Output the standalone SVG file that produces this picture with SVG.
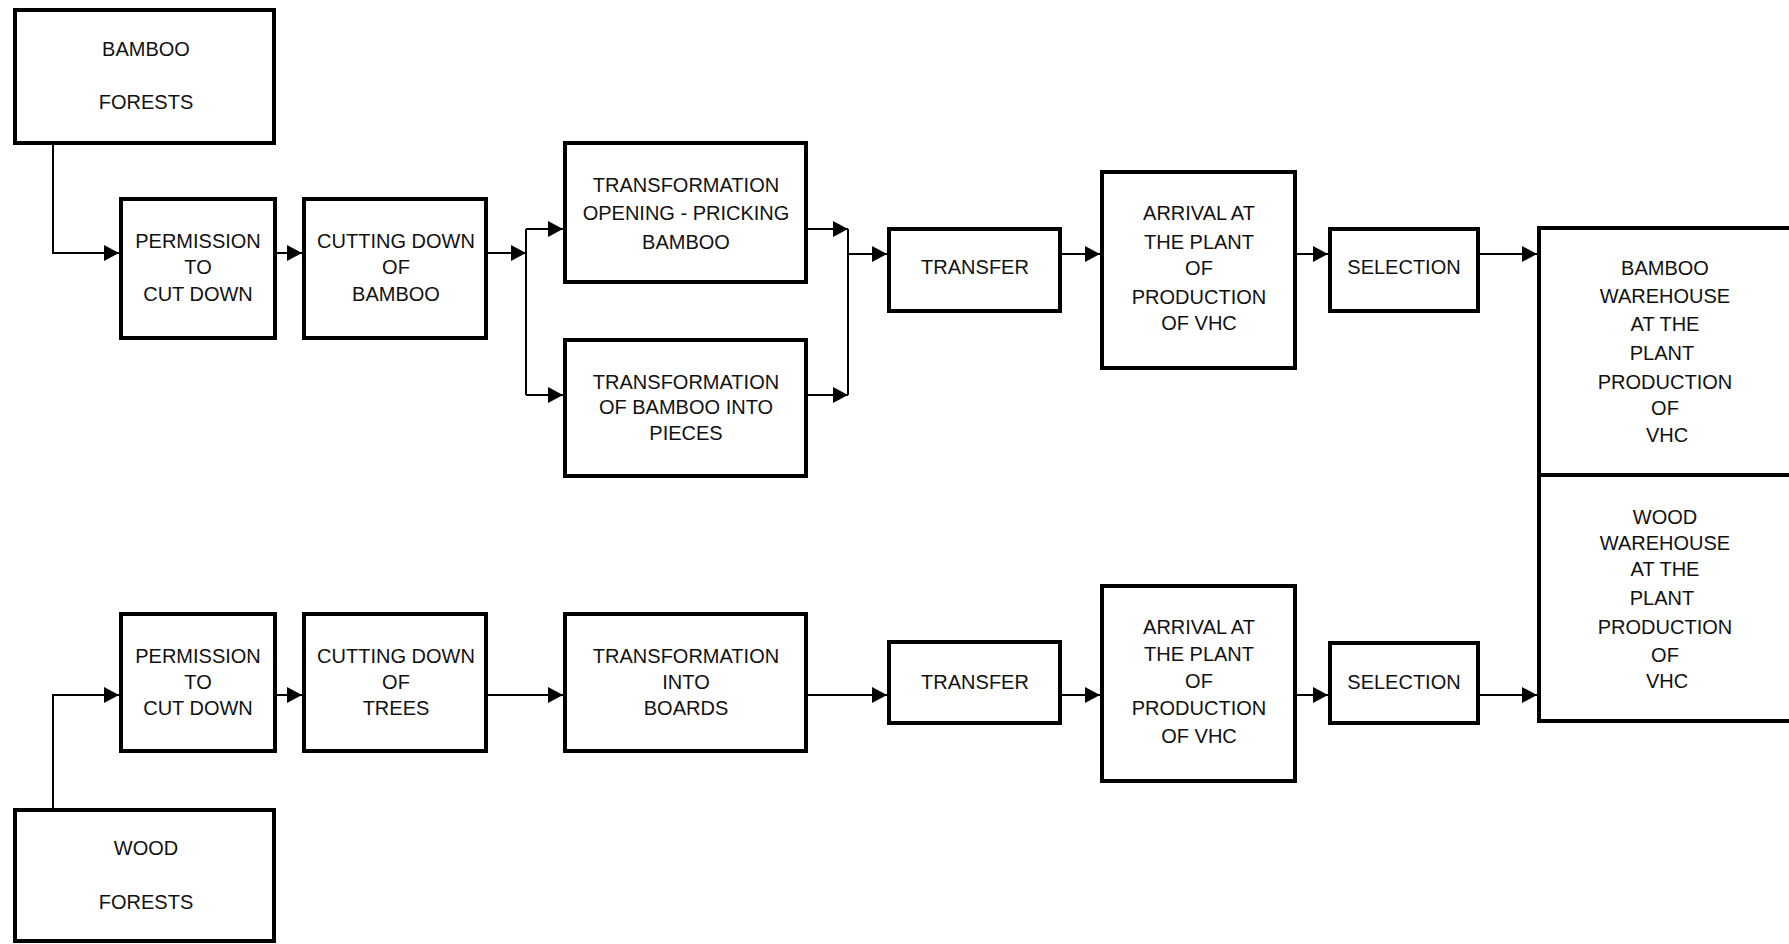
<svg xmlns="http://www.w3.org/2000/svg" width="1789" height="944" viewBox="0 0 1789 944">
<defs>
<marker id="ah" markerUnits="userSpaceOnUse" markerWidth="15" markerHeight="16" refX="15" refY="8" orient="auto">
<path d="M0,0 L15,8 L0,16 z" fill="#000"/>
</marker>
<style>
.box{fill:#fff;stroke:#000;stroke-width:4}
.t{font-family:"Liberation Sans",Arial,sans-serif;font-size:20px;fill:#111;text-anchor:middle}
.c{fill:none;stroke:#000;stroke-width:2}
.a{marker-end:url(#ah)}
</style>
</defs>
<rect width="1789" height="944" fill="#fff"/>
<g id="connectors">
<path class="c a" d="M53,145 V253 H119"/>
<path class="c a" d="M277,253 H302"/>
<path class="c a" d="M488,253 H526"/>
<path class="c" d="M526,229 V395"/>
<path class="c a" d="M526,229 H563"/>
<path class="c a" d="M526,395 H563"/>
<path class="c a" d="M807,229 H848"/>
<path class="c a" d="M807,395 H848"/>
<path class="c" d="M848,229 V395"/>
<path class="c a" d="M848,254 H887"/>
<path class="c a" d="M1061,254 H1100"/>
<path class="c a" d="M1296,254 H1328"/>
<path class="c a" d="M1479,254 H1537"/>
<path class="c a" d="M53,808 V695 H119"/>
<path class="c a" d="M277,695 H302"/>
<path class="c a" d="M488,695 H563"/>
<path class="c a" d="M807,695 H887"/>
<path class="c a" d="M1061,695 H1100"/>
<path class="c a" d="M1296,695 H1328"/>
<path class="c a" d="M1479,695 H1537"/>
</g>
<g id="bamboo-forests">
<rect class="box" x="15" y="10" width="259" height="133"/>
<text class="t" x="146" y="56">BAMBOO</text>
<text class="t" x="146" y="109">FORESTS</text>
</g>
<g id="permission-top">
<rect class="box" x="121" y="199" width="154" height="139"/>
<text class="t" x="198" y="248">PERMISSION</text>
<text class="t" x="198" y="274">TO</text>
<text class="t" x="198" y="301">CUT DOWN</text>
</g>
<g id="cutting-bamboo">
<rect class="box" x="304" y="199" width="182" height="139"/>
<text class="t" x="396" y="248">CUTTING DOWN</text>
<text class="t" x="396" y="274">OF</text>
<text class="t" x="396" y="301">BAMBOO</text>
</g>
<g id="transformation-opening">
<rect class="box" x="565" y="143" width="241" height="139"/>
<text class="t" x="686" y="192">TRANSFORMATION</text>
<text class="t" x="686" y="220">OPENING - PRICKING</text>
<text class="t" x="686" y="249">BAMBOO</text>
</g>
<g id="transformation-pieces">
<rect class="box" x="565" y="340" width="241" height="136"/>
<text class="t" x="686" y="389">TRANSFORMATION</text>
<text class="t" x="686" y="414">OF BAMBOO INTO</text>
<text class="t" x="686" y="440">PIECES</text>
</g>
<g id="transfer-top">
<rect class="box" x="889" y="229" width="171" height="82"/>
<text class="t" x="975" y="274">TRANSFER</text>
</g>
<g id="arrival-top">
<rect class="box" x="1102" y="172" width="193" height="196"/>
<text class="t" x="1199" y="220">ARRIVAL AT</text>
<text class="t" x="1199" y="249">THE PLANT</text>
<text class="t" x="1199" y="275">OF</text>
<text class="t" x="1199" y="304">PRODUCTION</text>
<text class="t" x="1199" y="330">OF VHC</text>
</g>
<g id="selection-top">
<rect class="box" x="1330" y="229" width="148" height="82"/>
<text class="t" x="1404" y="274">SELECTION</text>
</g>
<g id="warehouse">
<rect class="box" x="1539" y="228" width="270" height="493"/>
<line x1="1539" y1="475" x2="1789" y2="475" stroke="#000" stroke-width="4"/>
</g>
<g id="bamboo-warehouse">
<text class="t" x="1665" y="275">BAMBOO</text>
<text class="t" x="1665" y="303">WAREHOUSE</text>
<text class="t" x="1665" y="331">AT THE</text>
<text class="t" x="1662" y="360">PLANT</text>
<text class="t" x="1665" y="389">PRODUCTION</text>
<text class="t" x="1665" y="415">OF</text>
<text class="t" x="1667" y="442">VHC</text>
</g>
<g id="wood-warehouse">
<text class="t" x="1665" y="524">WOOD</text>
<text class="t" x="1665" y="550">WAREHOUSE</text>
<text class="t" x="1665" y="576">AT THE</text>
<text class="t" x="1662" y="605">PLANT</text>
<text class="t" x="1665" y="634">PRODUCTION</text>
<text class="t" x="1665" y="662">OF</text>
<text class="t" x="1667" y="688">VHC</text>
</g>
<g id="permission-bottom">
<rect class="box" x="121" y="614" width="154" height="137"/>
<text class="t" x="198" y="663">PERMISSION</text>
<text class="t" x="198" y="689">TO</text>
<text class="t" x="198" y="715">CUT DOWN</text>
</g>
<g id="cutting-trees">
<rect class="box" x="304" y="614" width="182" height="137"/>
<text class="t" x="396" y="663">CUTTING DOWN</text>
<text class="t" x="396" y="689">OF</text>
<text class="t" x="396" y="715">TREES</text>
</g>
<g id="transformation-boards">
<rect class="box" x="565" y="614" width="241" height="137"/>
<text class="t" x="686" y="663">TRANSFORMATION</text>
<text class="t" x="686" y="689">INTO</text>
<text class="t" x="686" y="715">BOARDS</text>
</g>
<g id="transfer-bottom">
<rect class="box" x="889" y="642" width="171" height="81"/>
<text class="t" x="975" y="689">TRANSFER</text>
</g>
<g id="arrival-bottom">
<rect class="box" x="1102" y="586" width="193" height="195"/>
<text class="t" x="1199" y="634">ARRIVAL AT</text>
<text class="t" x="1199" y="661">THE PLANT</text>
<text class="t" x="1199" y="688">OF</text>
<text class="t" x="1199" y="715">PRODUCTION</text>
<text class="t" x="1199" y="743">OF VHC</text>
</g>
<g id="selection-bottom">
<rect class="box" x="1330" y="643" width="148" height="80"/>
<text class="t" x="1404" y="689">SELECTION</text>
</g>
<g id="wood-forests">
<rect class="box" x="15" y="810" width="259" height="131"/>
<text class="t" x="146" y="855">WOOD</text>
<text class="t" x="146" y="909">FORESTS</text>
</g>
</svg>
